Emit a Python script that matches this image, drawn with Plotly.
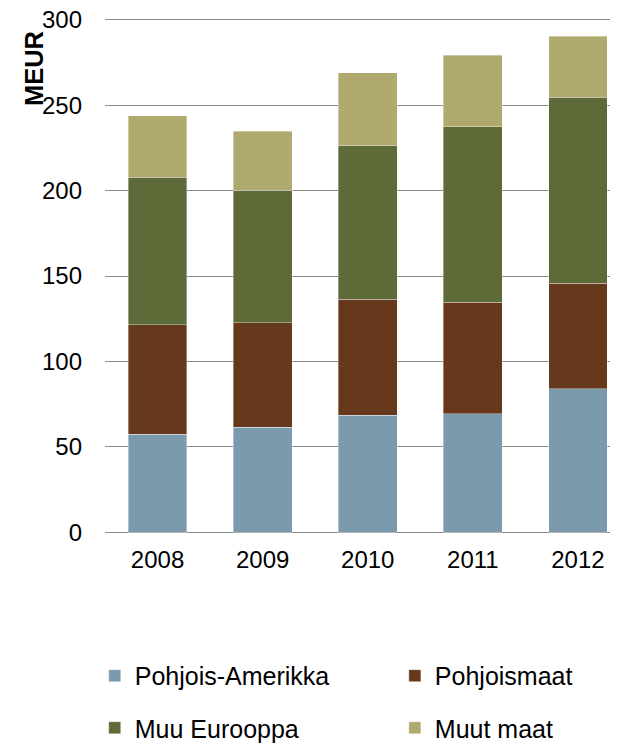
import plotly.graph_objects as go

years = ["2008", "2009", "2010", "2011", "2012"]
pohjois_amerikka = [57.5, 61.5, 68.5, 69.5, 84.0]
pohjoismaat = [64.0, 61.0, 68.0, 65.0, 61.7]
muu_eurooppa = [86.3, 77.7, 89.7, 103.0, 109.0]
muut_maat = [36.0, 34.4, 42.8, 41.7, 35.7]

series = [
    ("Pohjois-Amerikka", pohjois_amerikka, "#7B9AAE", "legend", -0.02, -0.275),
    ("Pohjoismaat", pohjoismaat, "#66381C", "legend2", 0.565, -0.275),
    ("Muu Eurooppa", muu_eurooppa, "#5E6A38", "legend3", -0.02, -0.376),
    ("Muut maat", muut_maat, "#B0AA6E", "legend4", 0.565, -0.376),
]

FONT = "Liberation Sans, Arial, sans-serif"

fig = go.Figure()
legends = {}
for name, vals, color, lg, lx, ly in series:
    fig.add_trace(go.Bar(
        x=years, y=vals, name=name, width=0.56,
        marker=dict(color=color, line=dict(color="rgba(255,255,255,0.45)", width=0.8)),
        legend=lg,
    ))
    legends[lg] = dict(
        x=lx, y=ly, orientation="h", xanchor="left", yanchor="middle",
        traceorder="normal", itemwidth=30,
        font=dict(family=FONT, size=25, color="#000000"),
        bgcolor="rgba(0,0,0,0)",
    )

# page body has an 8px margin; figure is sized so the plot lands where the reference has it
fig.update_layout(
    width=610, height=736,
    margin=dict(l=97, r=0, t=10, b=210, autoexpand=False),
    paper_bgcolor="white", plot_bgcolor="white",
    barmode="stack",
    font=dict(family=FONT, size=24, color="#000000"),
    xaxis=dict(range=[-0.5, 4.381], showgrid=False, zeroline=False, showline=False,
               ticks="", tickfont=dict(size=24, color="#000000"), fixedrange=True,
               ticklabelstandoff=9),
    yaxis=dict(range=[-1, 301], tickvals=[0, 50, 100, 150, 200, 250, 300],
               showgrid=True, gridcolor="#8a8a8a", gridwidth=1,
               zeroline=False, showline=False, ticks="", ticklabeloverflow="allow",
               tickfont=dict(size=24, color="#000000"), ticklabelstandoff=22),
    annotations=[dict(
        text="<b>MEUR</b>", textangle=-90, xref="paper", yref="paper",
        x=-0.138, y=0.978, xanchor="center", yanchor="top", showarrow=False,
        font=dict(family=FONT, size=25.5, color="#000000"),
    )],
    showlegend=True,
    **legends,
)

fig.write_html("out.html")
